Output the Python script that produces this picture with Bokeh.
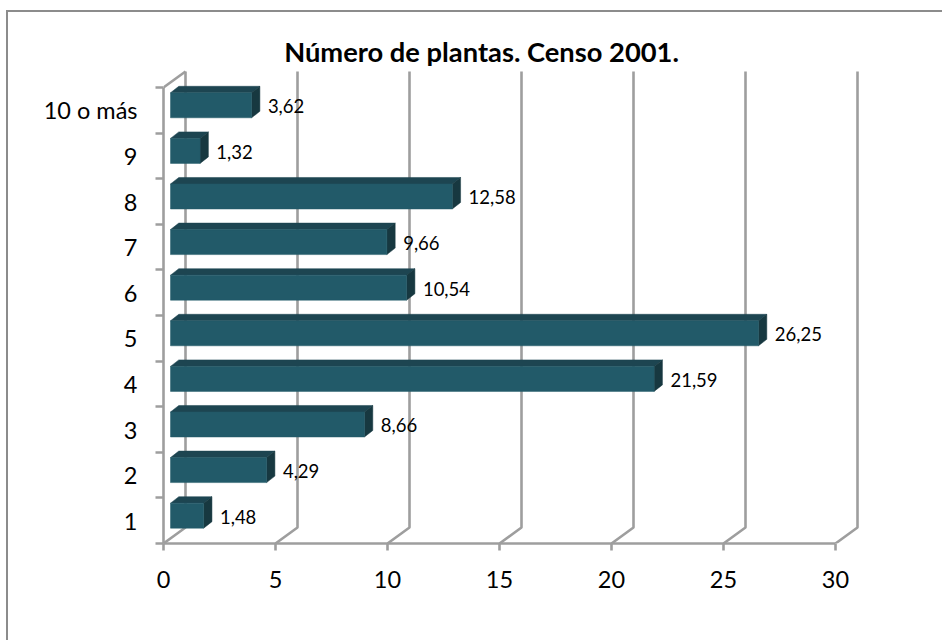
from bokeh.plotting import figure
from bokeh.embed import file_html
from bokeh.resources import INLINE
from bokeh.models import FixedTicker, Range1d, ColumnDataSource
from bokeh.core.properties import value

categories = ["1", "2", "3", "4", "5", "6", "7", "8", "9", "10 o más"]
values = [1.48, 4.29, 8.66, 21.59, 26.25, 10.54, 9.66, 12.58, 1.32, 3.62]
labels = ["1,48", "4,29", "8,66", "21,59", "26,25", "10,54", "9,66", "12,58", "1,32", "3,62"]
x_ticks = [0, 5, 10, 15, 20, 25, 30]
title = "Número de plantas. Censo 2001."

FONT = "Lato"
GRID = "#9e9e9e"
EDGE = "#8c8c8c"
FRONT, TOP, SIDE = "#225a69", "#1d4551", "#173840"

# pixel scales of the frame
PX = 22.4
PY = 45.6
OX, OY = 8, 12                     # canvas origin on the page
LEFT, BOTTOM, TOPPX, RIGHT = 163 - OX, 543 - OY, 30 - OY, 870 - OX
W, H = 936, 630
DX, DY = 22 / PX, 16 / PY          # wall depth
BX, BY = 8.3 / PX, 6.5 / PY        # bar depth
BAR0 = 7 / PX                      # bar start
BARH = 25 / PY
BARC = -0.39                       # bar centre relative to the upper tick
LW = 2.6

n = len(categories)
p = figure(width=W, height=H, output_backend="svg", toolbar_location=None,
           x_range=Range1d(0, (RIGHT - LEFT) / PX), y_range=Range1d(0, (BOTTOM - TOPPX) / PY),
           min_border_left=LEFT, min_border_right=W - RIGHT, min_border_top=TOPPX,
           min_border_bottom=H - BOTTOM, title=None)
p.outline_line_color = None
p.background_fill_color = None
p.border_fill_color = "white"
p.grid.visible = False
p.margin = (10, 0, 0, 6)
p.styles = {"border-left": f"2px solid {EDGE}", "border-top": f"2px solid {EDGE}"}

# walls
xs, ys = [], []
for t in x_ticks:
    xs.append([t, t + DX, t + DX]); ys.append([0, DY, n + DY])
xs.append([0, DX]); ys.append([n, n + DY])
p.multi_line(xs, ys, line_color=GRID, line_width=LW)

# bars
idx = list(range(n))
front_l = [BAR0] * n
front_r = [BAR0 + v for v in values]
centre = [i + 1 + BARC for i in idx]
front_b = [c - BARH / 2 for c in centre]
front_t = [c + BARH / 2 for c in centre]
p.patches([[l, l + BX, r + BX, r] for l, r in zip(front_l, front_r)],
          [[t, t + BY, t + BY, t] for t in front_t], fill_color=TOP, line_color=TOP, line_width=0.5)
p.patches([[r, r + BX, r + BX, r] for r in front_r],
          [[b, b + BY, t + BY, t] for b, t in zip(front_b, front_t)], fill_color=SIDE, line_color=SIDE, line_width=0.5)
p.quad(left=front_l, right=front_r, bottom=front_b, top=front_t, fill_color=FRONT, line_color=FRONT, line_width=0.5)

# data labels
src = ColumnDataSource(dict(x=[r + BX for r in front_r], y=centre, t=labels))
p.text("x", "y", text="t", source=src, x_offset=8, y_offset=1, text_font=value(FONT), text_font_size="18.5px",
       text_color="#000000", text_align="left", text_baseline="middle")

# axes
xa = p.xaxis[0]
xa.ticker = FixedTicker(ticks=x_ticks)
xa.axis_line_color = GRID; xa.axis_line_width = LW
xa.major_tick_line_color = GRID; xa.major_tick_line_width = LW
xa.major_tick_in = 0; xa.major_tick_out = 7
xa.minor_tick_line_color = None
xa.major_label_text_font = FONT; xa.major_label_text_font_size = "23.5px"
xa.major_label_text_color = "#000000"; xa.major_label_standoff = 20
xa.bounds = (0, 30)

ya = p.yaxis[0]
ya.ticker = FixedTicker(ticks=[i + 0.5 for i in idx], minor_ticks=[float(i) for i in range(n + 1)])
ya.major_label_overrides = {i + 0.5: c for i, c in zip(idx, categories)}
ya.major_tick_line_color = None
ya.major_tick_in = 0; ya.major_tick_out = 8
ya.minor_tick_line_color = GRID; ya.minor_tick_line_width = LW
ya.minor_tick_in = 0; ya.minor_tick_out = 8
ya.axis_line_color = GRID; ya.axis_line_width = LW
ya.major_label_text_font = FONT; ya.major_label_text_font_size = "23.5px"
ya.major_label_text_color = "#000000"; ya.major_label_standoff = 18
ya.bounds = (0, n)

# title
p.text([(481 - 163) / PX], [n + DY + 20 / PY], text=[title], text_font=value(FONT), text_font_style="bold",
       text_font_size="27.3px", text_align="center", text_baseline="middle", text_color="#000000")

open("out.html", "w").write(file_html(p, INLINE))
